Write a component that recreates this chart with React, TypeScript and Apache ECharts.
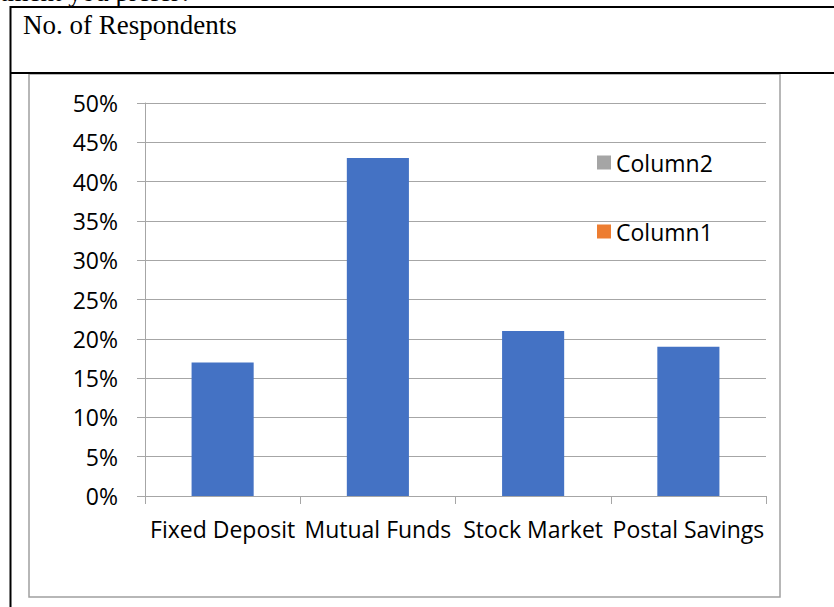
import React, { useEffect, useRef } from "react";
import * as echarts from "echarts";

const categories = ["Fixed Deposit", "Mutual Funds", "Stock Market", "Postal Savings"];
const respondents = [17, 43, 21, 19];
const legendNames = ["Column2", "Column1"];
const yTicks = { min: 0, max: 50, interval: 5 };

export default function App() {
  const ref = useRef<HTMLDivElement>(null);
  useEffect(() => {
    if (!ref.current) return;
    const chart = echarts.init(ref.current, null, { renderer: "svg" });
    const font = "'Open Sans', sans-serif";
    const serif = "'Liberation Serif', serif";
    chart.setOption({
      animation: false,
      backgroundColor: "#ffffff",
      grid: { left: 145, right: 68, top: 103, bottom: 111, containLabel: false },
      legend: {
        data: legendNames.map((n) => ({ name: n, icon: "rect" })),
        orient: "vertical",
        left: 592,
        top: 146,
        itemWidth: 14,
        itemHeight: 14,
        itemGap: 46,
        textStyle: { fontFamily: font, fontSize: 23, color: "#000" },
        selectedMode: false,
      },
      xAxis: {
        type: "category",
        data: categories,
        boundaryGap: true,
        axisLine: { show: true, lineStyle: { color: "#A6A6A6", width: 1 } },
        axisTick: { show: true, length: 8, alignWithLabel: false, lineStyle: { color: "#A6A6A6" } },
        axisLabel: { fontFamily: font, fontSize: 23, color: "#000", margin: 21, interval: 0 },
        splitLine: { show: false },
      },
      yAxis: {
        type: "value",
        min: yTicks.min,
        max: yTicks.max,
        interval: yTicks.interval,
        axisLine: { show: true, lineStyle: { color: "#A6A6A6", width: 1 } },
        axisTick: { show: true, length: 8, lineStyle: { color: "#A6A6A6" } },
        axisLabel: { fontFamily: font, fontSize: 23, color: "#000", margin: 27, formatter: "{value}%" },
        splitLine: { show: true, lineStyle: { color: "#A6A6A6", width: 1 } },
      },
      series: [
        {
          name: "No. of Respondents",
          type: "bar",
          stack: "s",
          data: respondents,
          barWidth: "40%",
          itemStyle: { color: "#4472C4" },
        },
        { name: "Column2", type: "bar", stack: "s", data: [], itemStyle: { color: "#A5A5A5" } },
        { name: "Column1", type: "bar", stack: "s", data: [], itemStyle: { color: "#ED7D31" } },
      ],
      graphic: [
        {
          type: "text",
          x: 192,
          y: 5,
          style: {
            text: "type of investment you prefer?",
            fontFamily: serif,
            fontSize: 27,
            fill: "#000",
            align: "right",
            verticalAlign: "bottom",
          },
        },
        {
          type: "text",
          left: 23,
          top: 11,
          style: { text: "No. of Respondents", fontFamily: serif, fontSize: 27, fill: "#000" },
        },
        { type: "line", shape: { x1: 10, y1: 7, x2: 834, y2: 7 }, style: { stroke: "#000", lineWidth: 2 } },
        { type: "line", shape: { x1: 10, y1: 73, x2: 834, y2: 73 }, style: { stroke: "#000", lineWidth: 2 } },
        { type: "line", shape: { x1: 10.5, y1: 6, x2: 10.5, y2: 607 }, style: { stroke: "#000", lineWidth: 2 } },
        {
          type: "rect",
          shape: { x: 29, y: 74, width: 751, height: 523 },
          style: { fill: "none", stroke: "#A0A0A0", lineWidth: 1.5 },
          z: -1,
        },
      ],
    });
    return () => chart.dispose();
  }, []);
  return <div ref={ref} style={{ position: "fixed", left: 0, top: 0, width: 834, height: 607 }} />;
}
